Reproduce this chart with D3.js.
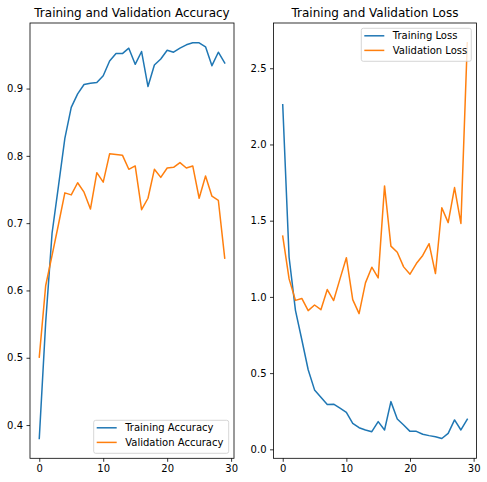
<!DOCTYPE html>
<html><head><meta charset="utf-8">
<script src="https://cdn.jsdelivr.net/npm/d3@7"></script>
<style>body{margin:0;background:#fff}svg{display:block;font-family:"DejaVu Sans",sans-serif}</style>
</head><body><svg id="c" width="487" height="482"></svg>
<script>
const epochs = d3.range(30);
const trainAcc = [0.380,0.552,0.685,0.755,0.826,0.872,0.892,0.906,0.908,0.909,0.919,0.941,0.952,0.952,0.960,0.936,0.955,0.903,0.935,0.944,0.957,0.954,0.960,0.965,0.968,0.968,0.962,0.934,0.954,0.938];
const valAcc = [0.501,0.607,0.652,0.698,0.745,0.742,0.760,0.746,0.721,0.775,0.761,0.803,0.802,0.801,0.780,0.785,0.720,0.737,0.780,0.768,0.782,0.783,0.790,0.782,0.785,0.737,0.770,0.740,0.734,0.648];
const trainLoss = [2.26,1.26,0.912,0.719,0.522,0.390,0.342,0.294,0.296,0.270,0.243,0.171,0.142,0.127,0.116,0.182,0.127,0.313,0.199,0.160,0.118,0.118,0.099,0.090,0.083,0.071,0.105,0.193,0.127,0.197];
const valLoss = [1.399,1.118,0.977,0.990,0.910,0.947,0.916,1.048,0.976,1.118,1.257,0.982,0.890,1.092,1.195,1.125,1.728,1.333,1.293,1.197,1.149,1.219,1.272,1.349,1.153,1.585,1.487,1.717,1.482,2.667];
const xTicks = [0,10,20,30];
const accTicks = [0.4,0.5,0.6,0.7,0.8,0.9];
const lossTicks = [0.0,0.5,1.0,1.5,2.0,2.5];
const titles = ["Training and Validation Accuracy","Training and Validation Loss"];
const accLabels = ["Training Accuracy","Validation Accuracy"];
const lossLabels = ["Training Loss","Validation Loss"];
const colors = ["#1f77b4","#ff7f0e"];

const svg = d3.select("#c");

function pad(ext){const s=ext[1]-ext[0];return [ext[0]-0.05*s, ext[1]+0.05*s];}

function panel(opt){
  const g = svg.append("g");
  const x = d3.scaleLinear().domain(pad([0,29])).range([opt.left,opt.right]);
  const all = opt.series.flat();
  const y = d3.scaleLinear().domain(pad(d3.extent(all))).range([opt.bottom,opt.top]);
  const line = d3.line().x((d,i)=>x(epochs[i])).y(d=>y(d));
  opt.series.forEach((s,k)=>{
    g.append("path").datum(s).attr("d",line).attr("fill","none")
     .attr("stroke",colors[k]).attr("stroke-width",1.5).attr("stroke-linejoin","round").attr("stroke-linecap","square");
  });
  const xa = g.append("g").attr("transform",`translate(0,${opt.bottom})`)
    .call(d3.axisBottom(x).tickValues(xTicks).tickSize(3.5).tickPadding(3.5).tickFormat(d3.format("d")));
  const ya = g.append("g").attr("transform",`translate(${opt.left},0)`)
    .call(d3.axisLeft(y).tickValues(opt.yTicks).tickSize(3.5).tickPadding(3.5).tickFormat(d3.format(".1f")));
  [xa,ya].forEach(a=>{
    a.select(".domain").remove();
    a.selectAll("line").attr("stroke","#000").attr("stroke-width",0.8);
    a.selectAll("text").attr("font-size",10).attr("fill","#000").attr("font-family","DejaVu Sans");
  });
  g.append("rect").attr("x",opt.left).attr("y",opt.top).attr("width",opt.right-opt.left).attr("height",opt.bottom-opt.top)
    .attr("fill","none").attr("stroke","#000").attr("stroke-width",0.8);
  g.append("text").attr("x",(opt.left+opt.right)/2).attr("y",opt.top-6).attr("text-anchor","middle")
    .attr("font-size",12).attr("fill","#000").text(opt.title);
  // legend
  const L = opt.legend;
  const lg = g.append("g");
  lg.append("rect").attr("x",L.x).attr("y",L.y).attr("width",L.w).attr("height",33).attr("rx",2)
    .attr("fill","#fff").attr("fill-opacity",0.8).attr("stroke","#ccc").attr("stroke-width",0.8);
  opt.labels.forEach((t,k)=>{
    const yy = L.y+7.5+k*14.6;
    lg.append("line").attr("x1",L.x+3).attr("x2",L.x+23).attr("y1",yy).attr("y2",yy)
      .attr("stroke",colors[k]).attr("stroke-width",1.5);
    lg.append("text").attr("x",L.x+31.5).attr("y",yy+3.6).attr("font-size",10).attr("fill","#000").text(t);
  });
}

panel({left:30,right:234,top:23,bottom:458.3,series:[trainAcc,valAcc],yTicks:accTicks,title:titles[0],labels:accLabels,
  legend:{x:93.7,y:420.3,w:135}});
panel({left:273.5,right:476.5,top:23,bottom:458.3,series:[trainLoss,valLoss],yTicks:lossTicks,title:titles[1],labels:lossLabels,
  legend:{x:361.3,y:28.3,w:110}});
</script></body></html>
